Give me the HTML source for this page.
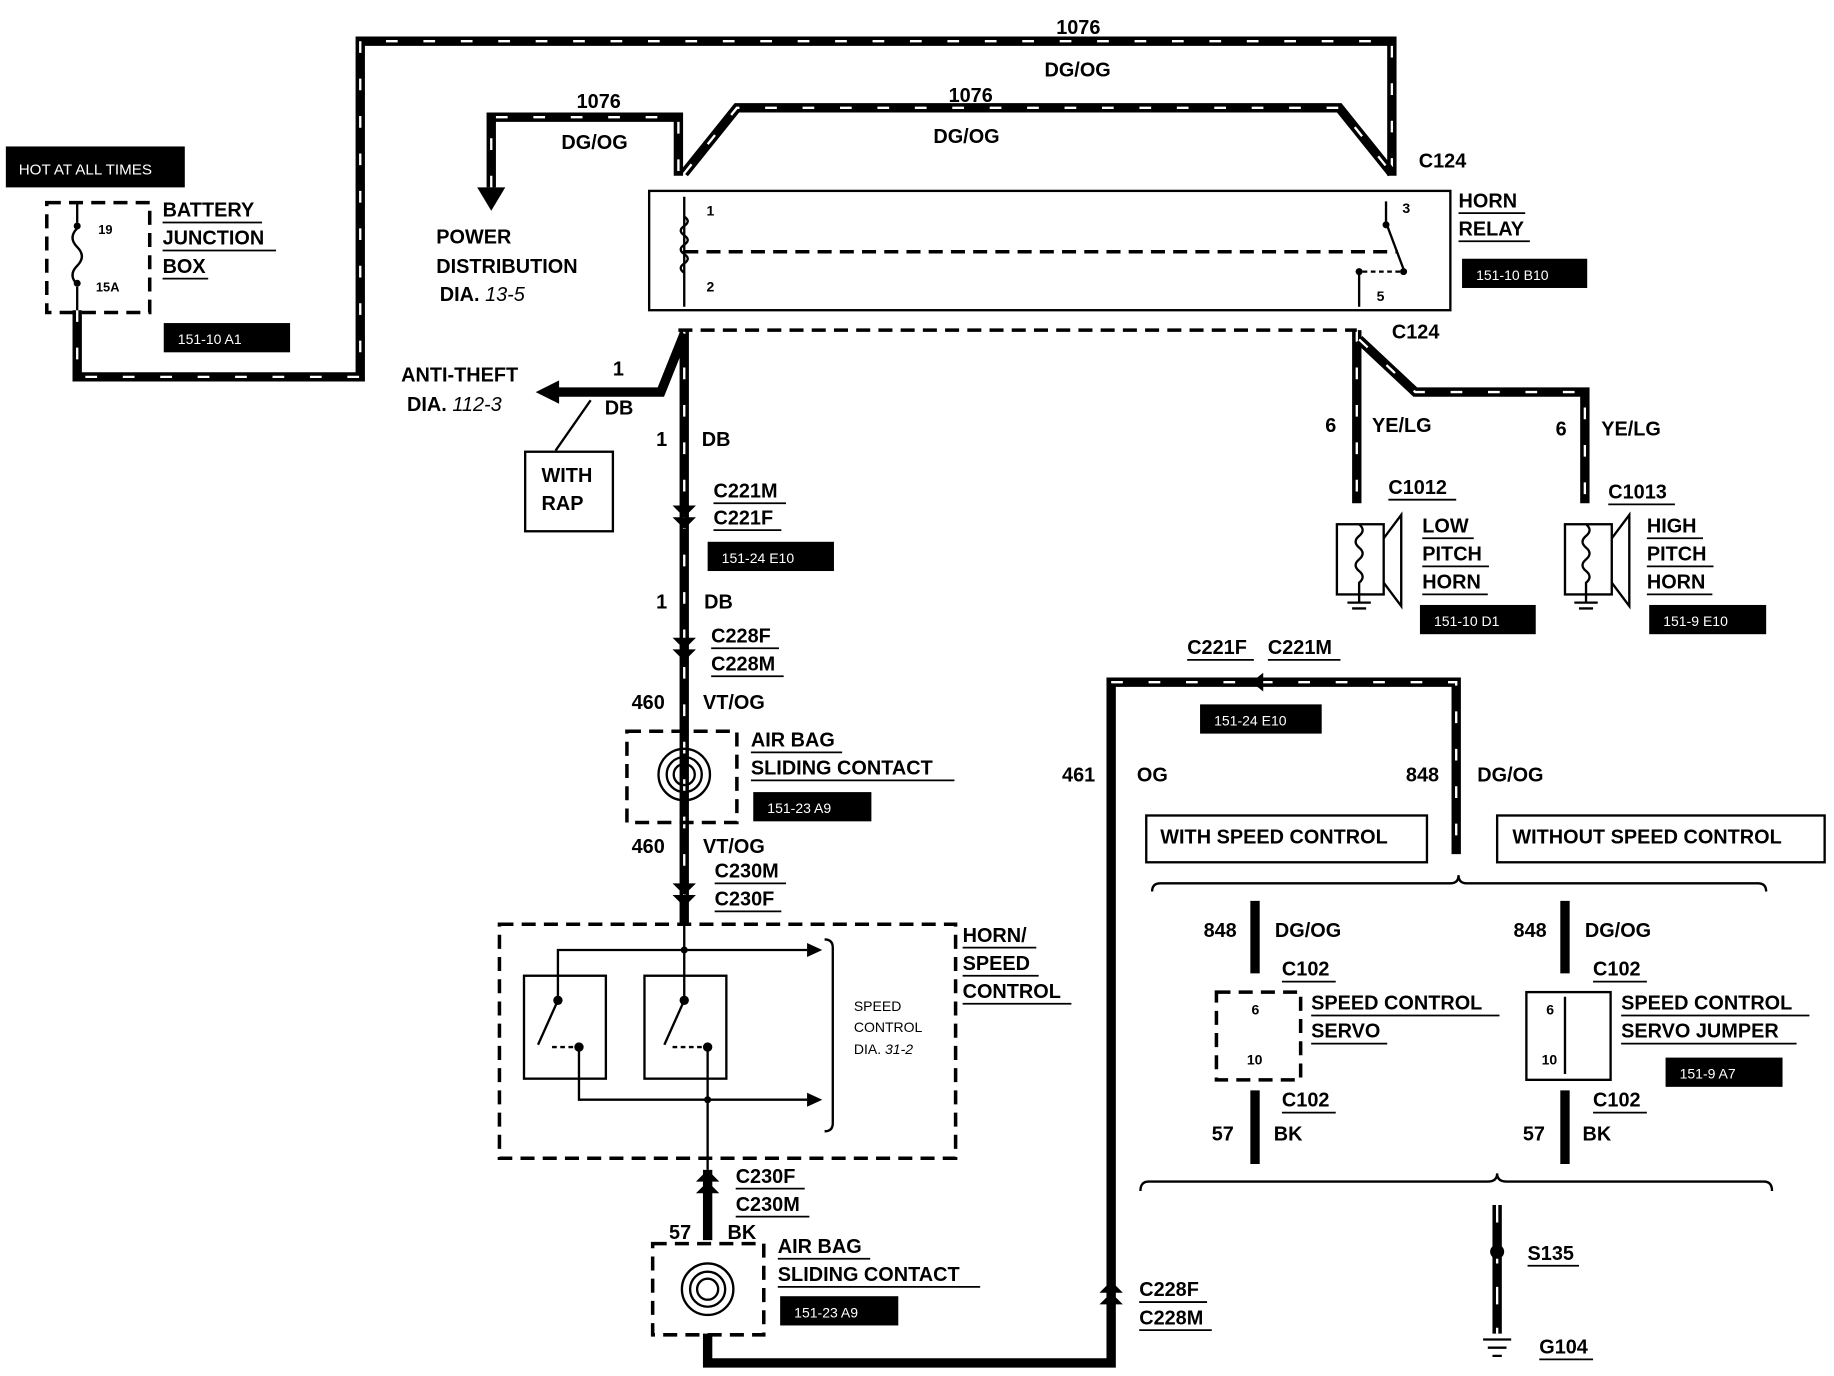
<!DOCTYPE html>
<html><head><meta charset="utf-8"><style>
html,body{margin:0;padding:0;background:#fff;}
svg{display:block;}
text{font-family:"Liberation Sans",sans-serif;font-weight:bold;fill:#000;}
.t{font-size:17px;}
.s{font-size:12px;}
.w{fill:none;stroke:#000;stroke-width:8;stroke-linejoin:miter;}
.d{fill:none;stroke:#fff;stroke-width:2;stroke-dasharray:10 22;}
.l{fill:none;stroke:#000;stroke-width:2;}
.dl{fill:none;stroke:#000;stroke-width:3;stroke-dasharray:12 7;}
.u{stroke:#000;stroke-width:1.5;}
</style></head><body>
<svg width="1834" height="1376" viewBox="0 0 1568 1176" xmlns="http://www.w3.org/2000/svg">
<rect width="1568" height="1176" fill="#fff"/>
<g>
<path class="w" d="M66 265 V322 H308 V35 H1190 V150"/>
<path class="d" d="M66 265 V322 H308 V35 H1190 V150"/>
<path class="w" d="M420 160 V100 H580 V150"/>
<path class="d" d="M420 160 V100 H580 V150"/>
<path class="w" d="M585 148 L630 92 H1145 L1190 148"/>
<path class="d" d="M585 148 L630 92 H1145 L1190 148"/>
<polygon points="408,160 432,160 420,180" fill="#000"/>
<path class="w" d="M585 282 V790"/>
<path class="d" d="M585 282 V790"/>
<path class="w" d="M585 285 L565 335 H475"/>
<polygon points="478,325 478,345 458,335" fill="#000"/>
<path class="l" d="M475 385 L505 342"/>
<path class="w" d="M1160 282 V430"/>
<path class="d" d="M1160 282 V430"/>
<path class="w" d="M1162 290 L1210 335 H1355 V430"/>
<path class="d" d="M1162 290 L1210 335 H1355 V430"/>
<path class="w" d="M605 1000 V1060"/>
<path class="w" d="M605 1140 V1165 H950 V583 H1245 V730"/>
<path class="d" d="M950 583 H1245 V730"/>
<path class="w" d="M1073 770 V832"/><path class="w" d="M1073 932 V995"/>
<path class="w" d="M1338 770 V832"/><path class="w" d="M1338 932 V995"/>
<path class="w" d="M1280 1030 V1140"/>
<path d="M1280 1030 V1140" stroke="#fff" stroke-width="2" stroke-dasharray="15 20" fill="none"/>
<circle cx="1280" cy="1070" r="6" fill="#000"/>
</g>
<g fill="#000">
<polygon points="575,432 595,432 585,442"/><polygon points="575,442 595,442 585,452"/>
<polygon points="575,545 595,545 585,555"/><polygon points="575,555 595,555 585,565"/>
<polygon points="575,755 595,755 585,765"/><polygon points="575,765 595,765 585,775"/>
<polygon points="595,1010 615,1010 605,1000"/><polygon points="595,1020 615,1020 605,1010"/>
<polygon points="940,1105 960,1105 950,1095"/><polygon points="940,1115 960,1115 950,1105"/>
<polygon points="1080,575 1080,591 1070,583"/>
</g>
<rect x="5" y="125" width="153" height="35" fill="#000"/>
<text x="16" y="149" class="s" style="fill:#fff;font-weight:normal;font-size:13px">HOT AT ALL TIMES</text>
<rect x="40" y="173" width="88" height="94" class="dl" fill="none"/>
<path class="l" d="M66 173 V190 M66 245 V265"/>
<path d="M66 195 q-8 8 0 16 q8 8 0 16 q-8 8 0 16" class="l"/>
<circle cx="66" cy="193" r="3"/><circle cx="66" cy="242" r="3"/>
<text x="84" y="200" class="s" style="font-size:11px">19</text>
<text x="82" y="249" class="s" style="font-size:11px">15A</text>
<text x="139" y="185" class="t">BATTERY</text>
<text x="139" y="209" class="t">JUNCTION</text>
<text x="139" y="233" class="t">BOX</text>
<path class="u" d="M139 190 H224 M139 214 H236 M139 238 H178"/>
<rect x="140" y="276" width="108" height="25" fill="#000"/>
<text x="152" y="294" class="s" style="fill:#fff;font-weight:normal">151-10 A1</text>
<text x="903" y="29" class="t">1076</text><text x="893" y="65" class="t">DG/OG</text>
<text x="493" y="92" class="t">1076</text><text x="480" y="127" class="t">DG/OG</text>
<text x="811" y="87" class="t">1076</text><text x="798" y="122" class="t">DG/OG</text>
<text x="373" y="208" class="t">POWER</text>
<text x="373" y="233" class="t">DISTRIBUTION</text>
<text x="376" y="257" class="t">DIA. <tspan font-style="italic" font-weight="normal">13-5</tspan></text>
<rect x="555" y="163" width="685" height="102" class="l"/>
<path d="M585 215 H1195" class="dl" stroke-width="2"/>
<path class="l" d="M585 168 V262"/>
<path class="l" d="M585 185 q6 4 0 8 q-6 4 0 8 q6 4 0 8 q-6 4 0 8 q6 4 0 8 q-6 4 0 8"/>
<path class="l" d="M1185 172 V190 L1200 230 M1162 232 V262"/>
<circle cx="1185" cy="192" r="3"/><circle cx="1200" cy="232" r="3"/><circle cx="1162" cy="232" r="3"/>
<path d="M1165 232 H1198" class="l" stroke-dasharray="4 3"/>
<path d="M580 282 H1160" class="dl" stroke-width="2"/>
<text x="604" y="184" class="s">1</text><text x="604" y="249" class="s">2</text>
<text x="1199" y="182" class="s">3</text><text x="1177" y="257" class="s">5</text>
<text x="1213" y="143" class="t">C124</text><text x="1190" y="289" class="t">C124</text>
<text x="1247" y="177" class="t">HORN</text><text x="1247" y="201" class="t">RELAY</text>
<path class="u" d="M1247 182 H1304 M1247 206 H1308"/>
<rect x="1250" y="221" width="107" height="25" fill="#000"/>
<text x="1262" y="239" class="s" style="fill:#fff;font-weight:normal">151-10 B10</text>
<text x="343" y="326" class="t">ANTI-THEFT</text>
<text x="348" y="351" class="t">DIA. <tspan font-style="italic" font-weight="normal">112-3</tspan></text>
<text x="524" y="321" class="t">1</text><text x="517" y="354" class="t">DB</text>
<rect x="449" y="386" width="75" height="68" class="l"/>
<text x="463" y="412" class="t">WITH</text><text x="463" y="436" class="t">RAP</text>
<text x="561" y="381" class="t">1</text><text x="600" y="381" class="t">DB</text>
<text x="610" y="425" class="t">C221M</text><text x="610" y="448" class="t">C221F</text>
<path class="u" d="M610 430 H672 M610 453 H668"/>
<rect x="605" y="463" width="108" height="25" fill="#000"/>
<text x="617" y="481" class="s" style="fill:#fff;font-weight:normal">151-24 E10</text>
<text x="561" y="520" class="t">1</text><text x="602" y="520" class="t">DB</text>
<text x="608" y="549" class="t">C228F</text><text x="608" y="573" class="t">C228M</text>
<path class="u" d="M608 554 H666 M608 578 H670"/>
<text x="540" y="606" class="t">460</text><text x="601" y="606" class="t">VT/OG</text>
<rect x="536" y="625" width="94" height="78" class="dl" fill="none"/>
<circle cx="585" cy="662" r="22" class="l" stroke-width="3"/><circle cx="585" cy="662" r="15" class="l"/><circle cx="585" cy="662" r="9" class="l"/>
<text x="642" y="638" class="t">AIR BAG</text><text x="642" y="662" class="t">SLIDING CONTACT</text>
<path class="u" d="M642 643 H720 M642 667 H816"/>
<rect x="644" y="677" width="101" height="25" fill="#000"/>
<text x="656" y="695" class="s" style="fill:#fff;font-weight:normal">151-23 A9</text>
<text x="540" y="729" class="t">460</text><text x="601" y="729" class="t">VT/OG</text>
<text x="611" y="750" class="t">C230M</text><text x="611" y="774" class="t">C230F</text>
<path class="u" d="M611 755 H672 M611 779 H668"/>
<rect x="427" y="790" width="390" height="200" class="dl" fill="none"/>
<rect x="448" y="834" width="70" height="88" class="l" stroke-width="3"/>
<rect x="551" y="834" width="70" height="88" class="l" stroke-width="3"/>
<path class="l" d="M585 790 V855 M477 855 V812 H690 M495 895 V940 H690 M605 895 V1000 M477 855 L460 893 M585 855 L568 893"/>
<polygon points="690,806 703,812 690,818"/><polygon points="690,934 703,940 690,946"/>
<path d="M472 895 H495 M575 895 H605" class="l" stroke-dasharray="4 3"/>
<circle cx="585" cy="812" r="3"/><circle cx="605" cy="940" r="3"/><circle cx="477" cy="855" r="4"/><circle cx="585" cy="855" r="4"/><circle cx="495" cy="895" r="4"/><circle cx="605" cy="895" r="4"/>
<path class="l" stroke-width="3" d="M705 803 Q712 803 712 810 V960 Q712 967 705 967"/>
<text x="730" y="864" class="s" style="font-weight:normal">SPEED</text>
<text x="730" y="882" class="s" style="font-weight:normal">CONTROL</text>
<text x="730" y="901" class="s" style="font-weight:normal">DIA. <tspan font-style="italic">31-2</tspan></text>
<text x="823" y="805" class="t">HORN/</text><text x="823" y="829" class="t">SPEED</text><text x="823" y="853" class="t">CONTROL</text>
<path class="u" d="M823 810 H886 M823 834 H888 M823 858 H916"/>
<text x="629" y="1011" class="t">C230F</text><text x="629" y="1035" class="t">C230M</text>
<path class="u" d="M629 1016 H688 M629 1040 H692"/>
<text x="572" y="1059" class="t">57</text><text x="622" y="1059" class="t">BK</text>
<rect x="558" y="1063" width="95" height="78" class="dl" fill="none"/>
<circle cx="605" cy="1102" r="22" class="l" stroke-width="3"/><circle cx="605" cy="1102" r="15" class="l"/><circle cx="605" cy="1102" r="9" class="l"/>
<text x="665" y="1071" class="t">AIR BAG</text><text x="665" y="1095" class="t">SLIDING CONTACT</text>
<path class="u" d="M665 1076 H744 M665 1100 H838"/>
<rect x="667" y="1108" width="101" height="25" fill="#000"/>
<text x="679" y="1126" class="s" style="fill:#fff;font-weight:normal">151-23 A9</text>
<text x="974" y="1108" class="t">C228F</text><text x="974" y="1132" class="t">C228M</text>
<path class="u" d="M974 1113 H1032 M974 1137 H1036"/>
<text x="1015" y="559" class="t">C221F</text><text x="1084" y="559" class="t">C221M</text>
<path class="u" d="M1015 564 H1072 M1084 564 H1146"/>
<rect x="1026" y="602" width="104" height="25" fill="#000"/>
<text x="1038" y="620" class="s" style="fill:#fff;font-weight:normal">151-24 E10</text>
<text x="908" y="668" class="t">461</text><text x="972" y="668" class="t">OG</text>
<text x="1202" y="668" class="t">848</text><text x="1263" y="668" class="t">DG/OG</text>
<rect x="980" y="697" width="240" height="40" class="l"/>
<text x="992" y="721" class="t">WITH SPEED CONTROL</text>
<rect x="1280" y="697" width="280" height="40" class="l"/>
<text x="1293" y="721" class="t">WITHOUT SPEED CONTROL</text>
<path class="l" stroke-width="3" d="M985 762 Q985 755 992 755 H1240 Q1247 755 1247 748 Q1247 755 1254 755 H1503 Q1510 755 1510 762"/>
<path class="l" stroke-width="3" d="M975 1018 Q975 1010 982 1010 H1272 Q1280 1010 1280 1003 Q1280 1010 1288 1010 H1508 Q1515 1010 1515 1018"/>
<text x="1029" y="801" class="t">848</text><text x="1090" y="801" class="t">DG/OG</text>
<text x="1096" y="834" class="t">C102</text><path class="u" d="M1096 839 H1142"/>
<rect x="1040" y="848" width="72" height="75" class="dl" fill="none"/>
<text x="1070" y="867" class="s">6</text><text x="1066" y="910" class="s">10</text>
<text x="1121" y="863" class="t">SPEED CONTROL</text><text x="1121" y="887" class="t">SERVO</text>
<path class="u" d="M1121 868 H1282 M1121 892 H1186"/>
<text x="1096" y="946" class="t">C102</text><path class="u" d="M1096 951 H1142"/>
<text x="1036" y="975" class="t">57</text><text x="1089" y="975" class="t">BK</text>
<text x="1294" y="801" class="t">848</text><text x="1355" y="801" class="t">DG/OG</text>
<text x="1362" y="834" class="t">C102</text><path class="u" d="M1362 839 H1408"/>
<rect x="1305" y="848" width="72" height="75" class="l" stroke-width="3"/>
<path class="l" d="M1338 852 V918"/>
<text x="1322" y="867" class="s">6</text><text x="1318" y="910" class="s">10</text>
<text x="1386" y="863" class="t">SPEED CONTROL</text><text x="1386" y="887" class="t">SERVO JUMPER</text>
<path class="u" d="M1386 868 H1547 M1386 892 H1536"/>
<rect x="1424" y="904" width="100" height="25" fill="#000"/>
<text x="1436" y="922" class="s" style="fill:#fff;font-weight:normal">151-9 A7</text>
<text x="1362" y="946" class="t">C102</text><path class="u" d="M1362 951 H1408"/>
<text x="1302" y="975" class="t">57</text><text x="1353" y="975" class="t">BK</text>
<text x="1306" y="1077" class="t">S135</text><path class="u" d="M1306 1082 H1350"/>
<path class="l" stroke-width="3" d="M1268 1145 H1292 M1272 1152 H1288 M1276 1159 H1284"/>
<text x="1316" y="1157" class="t">G104</text><path class="u" d="M1316 1162 H1362"/>
<text x="1133" y="369" class="t">6</text><text x="1173" y="369" class="t">YE/LG</text>
<text x="1330" y="372" class="t">6</text><text x="1369" y="372" class="t">YE/LG</text>
<text x="1187" y="422" class="t">C1012</text><path class="u" d="M1187 427 H1245"/>
<text x="1375" y="426" class="t">C1013</text><path class="u" d="M1375 431 H1432"/>
<g>
<rect x="1143" y="448" width="40" height="60" class="l" stroke-width="3"/>
<path d="M1183 460 L1198 440 V518 L1183 498" class="l" stroke-width="3"/>
<path class="l" d="M1162 448 q6 5 0 10 q-6 5 0 10 q6 5 0 10 q-6 5 0 10 q6 5 0 10 V515 M1152 515 H1172 M1156 520 H1168"/>
<rect x="1338" y="448" width="40" height="60" class="l" stroke-width="3"/>
<path d="M1378 460 L1393 440 V518 L1378 498" class="l" stroke-width="3"/>
<path class="l" d="M1356 448 q6 5 0 10 q-6 5 0 10 q6 5 0 10 q-6 5 0 10 q6 5 0 10 V515 M1346 515 H1366 M1350 520 H1362"/>
</g>
<text x="1216" y="455" class="t">LOW</text><text x="1216" y="479" class="t">PITCH</text><text x="1216" y="503" class="t">HORN</text>
<path class="u" d="M1216 460 H1260 M1216 484 H1273 M1216 508 H1272"/>
<rect x="1214" y="517" width="99" height="25" fill="#000"/>
<text x="1226" y="535" class="s" style="fill:#fff;font-weight:normal">151-10 D1</text>
<text x="1408" y="455" class="t">HIGH</text><text x="1408" y="479" class="t">PITCH</text><text x="1408" y="503" class="t">HORN</text>
<path class="u" d="M1408 460 H1456 M1408 484 H1465 M1408 508 H1464"/>
<rect x="1410" y="517" width="100" height="25" fill="#000"/>
<text x="1422" y="535" class="s" style="fill:#fff;font-weight:normal">151-9 E10</text>
</svg>
</body></html>
